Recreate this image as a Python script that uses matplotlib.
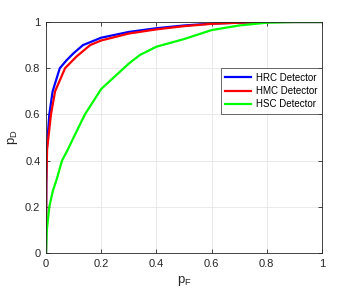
import matplotlib
matplotlib.use("Agg")
import matplotlib.pyplot as plt

plt.rcParams["font.family"] = ["Liberation Sans", "DejaVu Sans"]
plt.rcParams["mathtext.fontset"] = "custom"
plt.rcParams["mathtext.rm"] = "Liberation Sans"

pf_hrc = [0, 0.001, 0.003, 0.012, 0.024, 0.05, 0.075, 0.1, 0.134, 0.2, 0.3, 0.4, 0.5, 0.6, 0.7, 0.8, 1.0]
pd_hrc = [0, 0.3, 0.45, 0.6, 0.7, 0.8, 0.835, 0.865, 0.9, 0.932, 0.957, 0.973, 0.985, 0.993, 0.997, 1.0, 1.0]

pf_hmc = [0, 0.001, 0.004, 0.018, 0.033, 0.069, 0.11, 0.16, 0.2, 0.3, 0.4, 0.5, 0.6, 0.7, 0.8, 1.0]
pd_hmc = [0, 0.3, 0.45, 0.6, 0.7, 0.8, 0.85, 0.9, 0.92, 0.95, 0.968, 0.982, 0.992, 0.997, 1.0, 1.0]

pf_hsc = [0, 0.003, 0.012, 0.025, 0.039, 0.058, 0.08, 0.1, 0.141, 0.2, 0.3, 0.34, 0.4, 0.5, 0.6, 0.7, 0.8, 0.9, 1.0]
pd_hsc = [0, 0.1, 0.2, 0.27, 0.32, 0.4, 0.45, 0.5, 0.6, 0.71, 0.82, 0.857, 0.893, 0.926, 0.965, 0.985, 0.997, 1.0, 1.0]

labels = ["HRC Detector", "HMC Detector", "HSC Detector"]
ticks = [0, 0.2, 0.4, 0.6, 0.8, 1]
tick_labels = ["0", "0.2", "0.4", "0.6", "0.8", "1"]

fig = plt.figure(figsize=(3.57, 2.92), dpi=100)
ax = fig.add_axes([46/357, 1-253/292, 276/357, 231/292])

ax.plot(pf_hrc, pd_hrc, color="#0000ff", lw=1.6, label=labels[0])
ax.plot(pf_hmc, pd_hmc, color="#ff0000", lw=1.6, label=labels[1])
ax.plot(pf_hsc, pd_hsc, color="#00ff00", lw=1.6, label=labels[2])

ax.set_xlim(0, 1)
ax.set_ylim(0, 1)
ax.set_xticks(ticks)
ax.set_xticklabels(tick_labels)
ax.set_yticks(ticks)
ax.set_yticklabels(tick_labels)
ax.grid(True, color="#e6e6e6", lw=0.6)
ax.set_axisbelow(True)
for s in ax.spines.values():
    s.set_color("#262626")
    s.set_linewidth(0.6)
ax.tick_params(direction="in", length=3, width=0.6, color="#262626",
               labelsize=8, labelcolor="#262626", top=True, right=True, pad=4)

ax.set_xlabel("p$_\\mathregular{F}$", fontsize=9.5, color="#262626", labelpad=4)
ax.set_ylabel("p$_\\mathregular{D}$", fontsize=9.5, color="#262626", labelpad=4)

leg = ax.legend(loc="upper right", bbox_to_anchor=(1.0, 0.80), fontsize=7,
                frameon=True, fancybox=False, edgecolor="#262626",
                handlelength=2.7, borderpad=0.45, labelspacing=0.35,
                handletextpad=0.5, borderaxespad=0)
leg.get_frame().set_linewidth(0.6)

fig.savefig("out.png", dpi=100)
